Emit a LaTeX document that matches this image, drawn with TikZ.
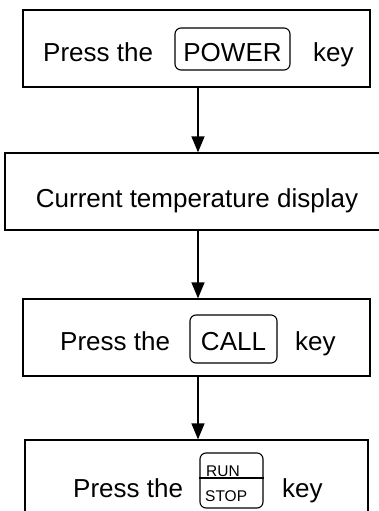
\documentclass[tikz,border=0pt]{standalone}
\usepackage{fontspec}
\setmainfont{Liberation Sans}
\usetikzlibrary{positioning, arrows.meta}

\begin{document}
\begin{tikzpicture}[
    x=1pt, y=-1pt,
    box/.style={draw, rectangle, line width=1.3pt, minimum height=77pt, inner sep=0pt},
    keycap/.style={draw, rectangle, rounded corners=6pt, line width=1.1pt, inner sep=0pt},
    lbl/.style={font=\fontsize{26}{31}\selectfont, inner sep=0pt},
    small/.style={font=\fontsize{15.5}{18}\selectfont, inner sep=0pt},
    arr/.style={-{Triangle[length=16pt, width=13pt]}, line width=1.3pt}
]
    \useasboundingbox (0,0) rectangle (379,511);

    % step 1
    \node[box, minimum width=347pt] (power) at (196.5,48.5) {};
    \node[lbl, anchor=base west] (p1) at (43,62) {Press the};
    \node[keycap, minimum width=115pt, minimum height=42pt] (powerkey) at (232.5,49) {};
    \node[lbl, anchor=base] (powertxt) at (powerkey.center |- p1.base) {POWER};
    \node[lbl, anchor=base west] (k1) at (313,62) {key};

    % step 2
    \node[box, minimum width=375pt] (temp) at (192.5,191.5) {};
    \node[lbl, anchor=base] (temptxt) at (197,207) {Current temperature display};

    % step 3
    \node[box, minimum width=347pt] (call) at (196.5,337.5) {};
    \node[lbl, anchor=base west] (p3) at (60,350) {Press the};
    \node[keycap, minimum width=87pt, minimum height=48pt] (callkey) at (233.5,339) {};
    \node[lbl, anchor=base] (calltxt) at (callkey.center |- p3.base) {CALL};
    \node[lbl, anchor=base west] (k3) at (295,350) {key};

    % step 4
    \node[box, minimum width=343pt] (run) at (196.5,478.5) {};
    \node[lbl, anchor=base west] (p4) at (73,497) {Press the};
    \node[keycap, minimum width=63pt, minimum height=55pt] (runkey) at (231.5,480.5) {};
    \draw[line width=1.1pt] ([yshift=2.5pt]runkey.west) -- ([yshift=2.5pt]runkey.east);
    \node[small, anchor=base west] (runtxt) at (206,476.5) {RUN};
    \node[small, anchor=base west] (stoptxt) at (205,501) {STOP};
    \node[lbl, anchor=base west] (k4) at (282,497) {key};

    \draw[arr] ([xshift=1.5pt]power.south) -- ([xshift=1.5pt]power.south |- temp.north);
    \draw[arr] ([xshift=1.5pt]call.north |- temp.south) -- ([xshift=1.5pt]call.north);
    \draw[arr] ([xshift=1.5pt]call.south) -- ([xshift=1.5pt]call.south |- run.north);
\end{tikzpicture}
\end{document}
